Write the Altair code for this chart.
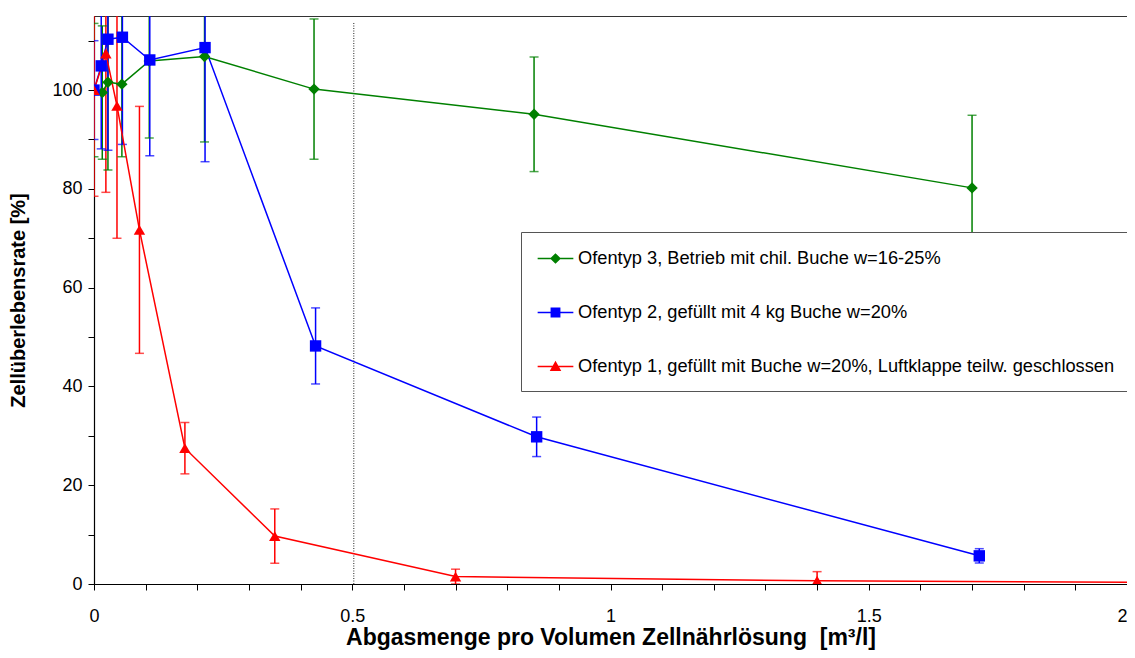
import altair as alt
import pandas as pd

# ---- series labels / styles ----
labels = [
    "Ofentyp 3, Betrieb mit chil. Buche w=16-25%",
    "Ofentyp 2, gefüllt mit 4 kg Buche w=20%",
    "Ofentyp 1, gefüllt mit Buche w=20%, Luftklappe teilw. geschlossen",
]
colors = ["#008000", "#0000FF", "#FF0000"]
shapes = ["diamond", "square", "triangle-up"]

# ---- data ----
g_x = [0, 0.016, 0.027, 0.054, 0.107, 0.214, 0.426, 0.852, 1.70]
g_y = [100, 99.5, 101.6, 101.2, 105.9, 106.8, 100.2, 95.1, 80.2]
g_e = [13.5, 13.5, 17.8, 14.7, 15.6, 17.3, 14.2, 11.6, 14.7]

b_x = [0, 0.014, 0.027, 0.055, 0.108, 0.215, 0.429, 0.857, 1.714]
b_y = [100, 104.9, 110.3, 110.7, 106.1, 108.6, 48.2, 29.8, 5.7]
b_e = [10, 16.8, 22.5, 21.7, 19.4, 23.1, 7.7, 4.0, 1.45]

r_x = [0, 0.023, 0.0445, 0.088, 0.176, 0.35, 0.70, 1.40, 2.8]
r_y = [100, 107.4, 96.8, 71.7, 27.5, 9.7, 1.5, 0.65, 0.0]
r_e = [21.5, 28.1, 26.8, 25.0, 5.2, 5.5, 1.5, 1.85, None]

x_ticks = [0, 0.1, 0.2, 0.3, 0.4, 0.5, 0.6, 0.7, 0.8, 0.9, 1.0,
           1.1, 1.2, 1.3, 1.4, 1.5, 1.6, 1.7, 1.8, 1.9, 2.0]
y_ticks = [0, 10, 20, 30, 40, 50, 60, 70, 80, 90, 100, 110]

marker_x = [0.503]
marker_y = [0]
marker_y2 = [113.6]

rows = []
for lab, xs, ys, es in [(labels[0], g_x, g_y, g_e),
                        (labels[1], b_x, b_y, b_e),
                        (labels[2], r_x, r_y, r_e)]:
    for x, y, e in zip(xs, ys, es):
        rows.append({"series": lab, "x": x, "y": y,
                     "lo": (y - e) if e is not None else None,
                     "hi": (y + e) if e is not None else None})
df = pd.DataFrame(rows)
df_err = df.dropna(subset=["lo"])

FONT = "Liberation Sans"

xscale = alt.Scale(domain=[0, 2], nice=False, zero=False)
yscale = alt.Scale(domain=[0, 115], nice=False, zero=False)
cscale = alt.Scale(domain=labels, range=colors)
sscale = alt.Scale(domain=labels, range=shapes)

# legend symbols: a thin bar (the line) plus the marker, all filled
P3 = "M-1.7,-0.075H1.7V0.075H-1.7Z M0,-0.5L0.52,0L0,0.5L-0.52,0Z"
P2 = "M-1.7,-0.075H1.7V0.075H-1.7Z M-0.47,-0.47H0.47V0.47H-0.47Z"
P1 = "M-1.7,-0.075H1.7V0.075H-1.7Z M0,-0.55L0.55,0.42H-0.55Z"
legend_scale = alt.Scale(domain=labels, range=[P3, P2, P1])

x_axis = alt.Axis(
    values=x_ticks,
    labelExpr="abs(datum.value*2 - round(datum.value*2)) < 0.001 ? format(datum.value, '~g') : ''",
    labelFlush=False,
    labelAlign={"condition": {"test": "datum.value >= 1.99", "value": "right"}, "value": "center"},
    title="Abgasmenge pro Volumen Zellnährlösung\u00a0 [m³/l]",
    titleFontSize=23,
    labelPadding=17, titlePadding=1, tickSize=6,
)
y_axis = alt.Axis(
    values=y_ticks,
    labelExpr="datum.value % 20 == 0 ? datum.label : ''",
    title="Zellüberlebensrate [%]",
    titleFontSize=20,
    labelPadding=6, titlePadding=23, tickSize=6,
)

X = alt.X("x:Q", scale=xscale, axis=x_axis)
Y = alt.Y("y:Q", scale=yscale, axis=y_axis)
C = alt.Color("series:N", scale=cscale, legend=None)

legend = alt.Legend(
    title=None, orient="none", legendX=427, legendY=216,
    fillColor="white", strokeColor="#555555",
    padding=16, rowPadding=35, symbolSize=441, symbolStrokeWidth=0,
    symbolOpacity=1, symbolOffset=8,
    labelFont=FONT, labelFontSize=18.25, labelColor="black",
    labelOffset=12, labelLimit=0, symbolLimit=0,
)

base = alt.Chart(df)

rules = alt.Chart(df_err).mark_rule(strokeWidth=1.5, clip=True).encode(
    x=alt.X("x:Q", scale=xscale), y=alt.Y("lo:Q", scale=yscale), y2="hi:Q", color=C,
)
caps_lo = alt.Chart(df_err).mark_tick(orient="horizontal", size=9, thickness=1.5, clip=True).encode(
    x=alt.X("x:Q", scale=xscale), y=alt.Y("lo:Q", scale=yscale), color=C,
)
caps_hi = alt.Chart(df_err).mark_tick(orient="horizontal", size=9, thickness=1.5, clip=True).encode(
    x=alt.X("x:Q", scale=xscale), y=alt.Y("hi:Q", scale=yscale), color=C,
)
lines = base.mark_line(strokeWidth=1.5, clip=True).encode(
    x=X, y=Y, order="x:Q", color=C,
)
points = base.mark_point(filled=True, size=130, opacity=1, clip=True).encode(
    x=X, y=Y, color=C,
    shape=alt.Shape("series:N", scale=sscale, legend=None),
)
legend_layer = base.transform_filter("false").mark_point(filled=True, opacity=1).encode(
    x=alt.X("x:Q", scale=xscale), y=alt.Y("y:Q", scale=yscale),
    color=alt.Color("series:N", scale=cscale, legend=legend),
    shape=alt.Shape("series:N", scale=legend_scale, legend=legend),
)
marker_df = pd.DataFrame({"x": marker_x, "y": marker_y, "y2": marker_y2})
dotted = alt.Chart(marker_df).mark_rule(color="#222222", strokeWidth=1, strokeDash=[1, 1.5]).encode(
    x=alt.X("x:Q", scale=xscale), y=alt.Y("y:Q", scale=yscale), y2="y2:Q",
)

chart = alt.layer(dotted, rules, caps_lo, caps_hi, lines, points, legend_layer).resolve_scale(
    color="independent", shape="independent",
).properties(
    width=1033, height=568,
    autosize=alt.AutoSizeParams(type="none"),
    padding={"left": 86, "top": 8, "right": 0, "bottom": 66},
).configure_view(
    stroke="#333333", strokeWidth=1,
).configure_axis(
    grid=False, labelFont=FONT, labelFontSize=18, labelColor="black",
    titleFont=FONT, titleFontSize=18, titleFontWeight="bold", titleColor="black",
    tickColor="black", domainColor="black", domainWidth=1.2, tickWidth=1,
)

chart.save("out.html", embed_options={"renderer": "svg", "actions": False})
